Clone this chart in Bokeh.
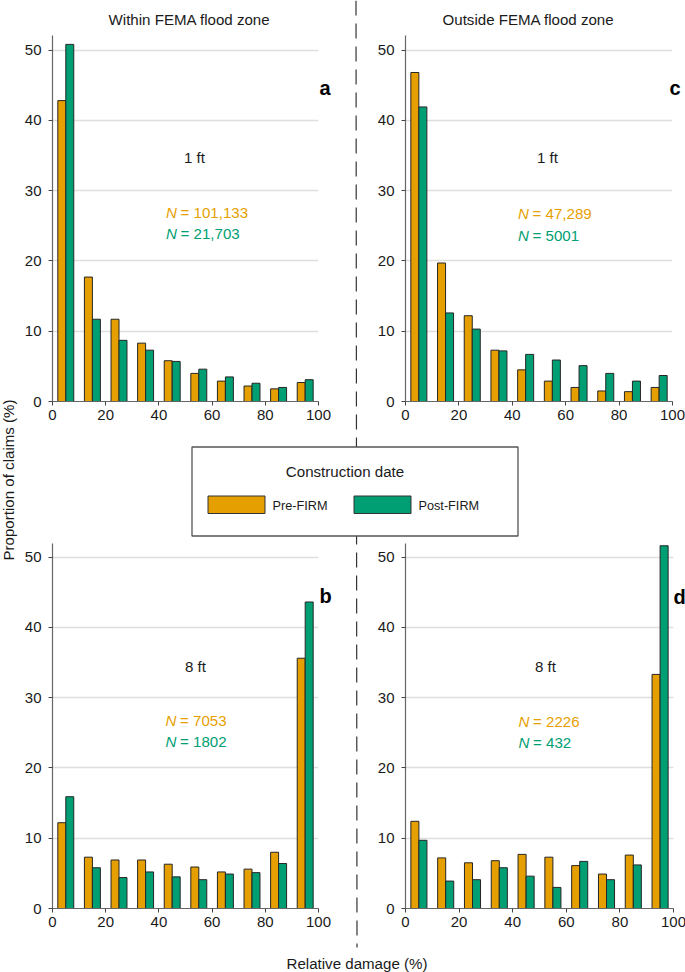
from bokeh.embed import file_html
from bokeh.resources import INLINE
from bokeh.plotting import figure
from bokeh.models import FixedTicker, ColumnDataSource, Range1d
from bokeh.models.ui import Pane
from bokeh.core.properties import value

FONT = "Liberation Sans"
PRE = "#E69F00"
POST = "#009E73"

bins = [0, 10, 20, 30, 40, 50, 60, 70, 80, 90]
a_pre = [42.8, 17.7, 11.7, 8.3, 5.8, 4.0, 2.9, 2.2, 1.8, 2.7]
a_post = [50.8, 11.7, 8.7, 7.3, 5.7, 4.6, 3.5, 2.6, 2.0, 3.1]
b_pre = [12.2, 7.3, 6.9, 6.9, 6.3, 5.9, 5.2, 5.6, 8.0, 35.6]
b_post = [15.9, 5.8, 4.4, 5.2, 4.5, 4.1, 4.9, 5.1, 6.4, 43.6]
c_pre = [46.8, 19.7, 12.2, 7.3, 4.5, 2.9, 2.0, 1.5, 1.4, 2.0]
c_post = [41.9, 12.6, 10.3, 7.2, 6.7, 5.9, 5.1, 4.0, 2.9, 3.7]
d_pre = [12.4, 7.2, 6.5, 6.8, 7.7, 7.3, 6.1, 4.9, 7.6, 33.3]
d_post = [9.7, 3.9, 4.1, 5.8, 4.6, 3.0, 6.7, 4.1, 6.2, 51.6]
x_ticks = [0, 20, 40, 60, 80, 100]
y_ticks = [0, 10, 20, 30, 40, 50]

ML, MR, MT, MB = 45, 20, 6, 30


def panel(pre, post, ax_left, ax_right, top, bottom):
    w = ML + (ax_right - ax_left) + MR
    h = MT + (bottom - top) + MB
    p = figure(width=w, height=h, output_backend="svg", toolbar_location=None,
               x_range=Range1d(0, 100), y_range=Range1d(0, (bottom - top) / 7.03),
               min_border_left=ML, min_border_right=MR, min_border_top=MT, min_border_bottom=MB,
               background_fill_color=None, border_fill_color=None, outline_line_color=None)
    src = ColumnDataSource(dict(x_pre=[b + 3.5 for b in bins], x_post=[b + 6.5 for b in bins],
                                pre=pre, post=post))
    p.vbar(x="x_pre", top="pre", width=3, bottom=0, source=src, fill_color=PRE,
           line_color="#262626", line_width=1)
    p.vbar(x="x_post", top="post", width=3, bottom=0, source=src, fill_color=POST,
           line_color="#262626", line_width=1)
    p.xgrid.visible = False
    p.ygrid.grid_line_color = "#dedede"
    p.ygrid.grid_line_width = 1.3
    p.ygrid.ticker = FixedTicker(ticks=y_ticks[1:])
    for ax, ticks in ((p.xaxis[0], x_ticks), (p.yaxis[0], y_ticks)):
        ax.ticker = FixedTicker(ticks=ticks)
        ax.axis_line_color = "#666666"
        ax.axis_line_width = 1.2
        ax.major_tick_line_color = "#444444"
        ax.major_tick_out = 4
        ax.major_tick_in = 0
        ax.minor_tick_line_color = None
        ax.major_label_text_font = FONT
        ax.major_label_text_font_size = "15px"
        ax.major_label_text_color = "#1a1a1a"
        ax.major_label_standoff = 4
    p.yaxis[0].major_label_orientation = "horizontal"
    p.yaxis[0].major_label_standoff = 7
    p.styles = {"position": "absolute", "left": f"{ax_left - ML}px", "top": f"{top - MT}px"}
    return p


pa = panel(a_pre, a_post, 52, 318, 35, 401)
pc = panel(c_pre, c_post, 405, 672, 35, 401)
pb = panel(b_pre, b_post, 52, 318, 543, 908)
pd = panel(d_pre, d_post, 405, 673, 543, 908)

# Overlay holding page-level annotations, measured in page pixels
deco = figure(width=685, height=972, output_backend="svg", toolbar_location=None,
              x_range=Range1d(0, 685), y_range=Range1d(972, 0),
              min_border_left=0, min_border_right=0, min_border_top=0, min_border_bottom=0,
              background_fill_color=None, border_fill_color=None, outline_line_color=None,
              x_axis_location=None, y_axis_location=None)
deco.xgrid.visible = False
deco.ygrid.visible = False
deco.styles = {"position": "absolute", "left": "0px", "top": "0px"}


def txt(x, y, s, size="15.1px", color="#1a1a1a", style="normal", align="left", angle=0):
    deco.text([x], [y], text=[s], text_font=value(FONT), text_font_size=size, text_color=color,
              text_font_style=style, text_align=align, text_baseline="middle", angle=angle)


deco.line([355.5, 356.5], [0, 947], line_color="#333333", line_width=1.2, line_dash="15 8")
deco.quad(left=[191.5], right=[517.5], top=[446.5], bottom=[535.5], fill_color="white",
          line_color="#555555", line_width=1.3)
deco.quad(left=[207.5], right=[264.5], top=[495.5], bottom=[513], fill_color=PRE,
          line_color="#333333", line_width=1)
deco.quad(left=[353.5], right=[410.5], top=[495.5], bottom=[513], fill_color=POST,
          line_color="#333333", line_width=1)

txt(189, 19, "Within FEMA flood zone", align="center")
txt(528, 19, "Outside FEMA flood zone", align="center")
txt(8, 479.5, "Proportion of claims (%)", align="center", angle=1.5708)
txt(356.5, 963, "Relative damage (%)", align="center")
txt(344.5, 471, "Construction date", align="center")
txt(272, 505, "Pre-FIRM", size="12.7px")
txt(418, 505, "Post-FIRM", size="12.7px")

labels = [
    (194, 157, "1 ft", 165.5, 212, 233, "101,133", "21,703", 319, 87, "a"),
    (547, 157, "1 ft", 517.5, 213, 235, "47,289", "5001", 669, 87, "c"),
    (195, 666, "8 ft", 165, 720, 741, "7053", "1802", 319, 595, "b"),
    (545, 666, "8 ft", 518, 721, 742, "2226", "432", 673, 596, "d"),
]
for fx, fy, ft, nx, y1, y2, n1, n2, lx, ly, letter in labels:
    txt(fx, fy, ft, align="center")
    for y, n, col in ((y1, n1, PRE), (y2, n2, POST)):
        txt(nx, y, "N", color=col, style="italic")
        txt(nx + 14.5, y, "= " + n, color=col)
    txt(lx, ly, letter, size="20px", color="black", style="bold")

root = Pane(elements=[pa, pc, pb, pd, deco],
            styles={"position": "absolute", "left": "0px", "top": "0px", "width": "685px", "height": "972px"})
open("out.html", "w").write(file_html(root, INLINE))
